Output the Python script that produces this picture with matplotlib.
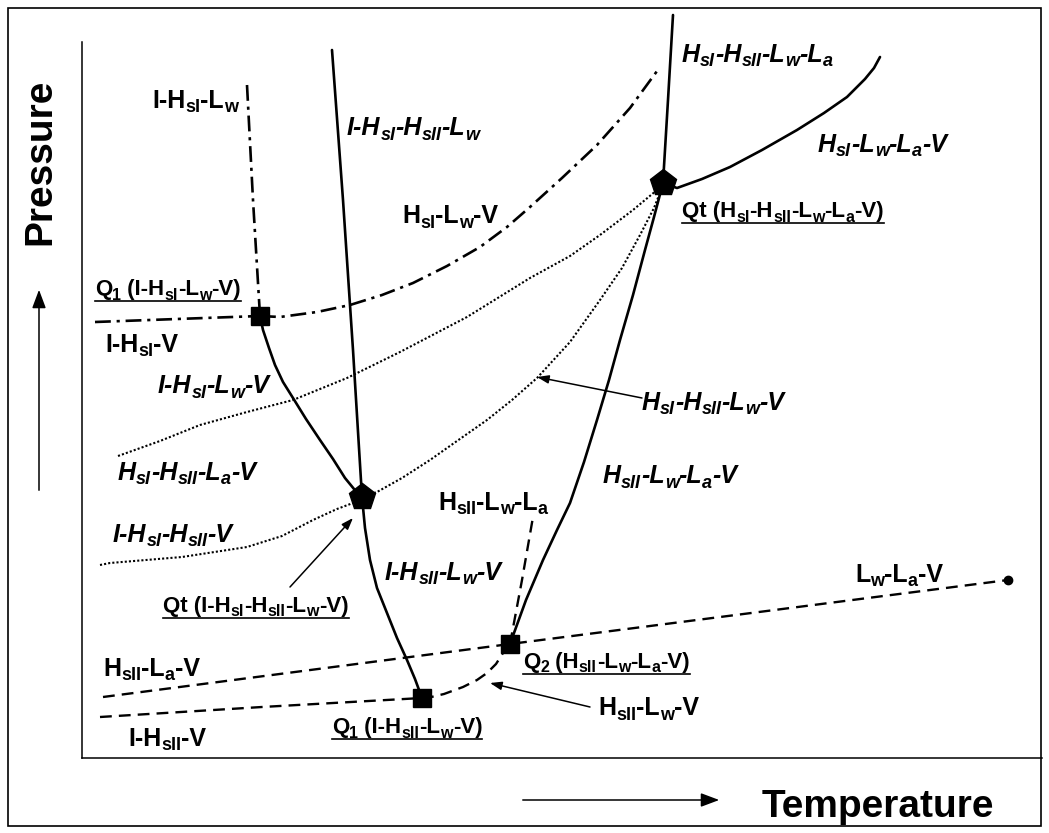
import re
import matplotlib
matplotlib.use("Agg")
import matplotlib.pyplot as plt
from matplotlib.patches import Rectangle
from matplotlib.transforms import offset_copy

# ---------------------------------------------------------------------------
# Schematic P-T phase diagram (units are arbitrary: T to the right, P upward)
# ---------------------------------------------------------------------------

# invariant points
q1_si = (178, 442)      # Q1 (I-HsI-Lw-V)
qt_low = (280, 261)     # Qt (I-HsI-HsII-Lw-V)
q1_sii = (340, 60)      # Q1 (I-HsII-Lw-V)
q2_sii = (428, 114)     # Q2 (HsII-Lw-La-V)
qt_up = (581, 575)      # Qt (HsI-HsII-Lw-La-V)
crit_end = (926, 178)   # end of Lw-La-V

# three-phase / four-phase lines
i_hsi_lw_T = [165, 171, 178]
i_hsi_lw_P = [673, 558, 442]

i_hsi_v_T = [13, 95, 178]
i_hsi_v_P = [436, 439, 442]

hsi_lw_v_T = [178, 198, 235, 268, 300, 331, 365, 398, 425, 448, 480, 515, 548, 578]
hsi_lw_v_P = [442, 441, 446, 453, 463, 475, 492, 511, 531, 551, 580, 613, 650, 691]

i_hsi_hsii_lw_T = [250, 261, 271, 280]
i_hsi_hsii_lw_P = [708, 558, 408, 261]

i_hsi_lw_v_T = [178, 181, 187, 193, 201, 211, 224, 238, 251, 263, 272, 280]
i_hsi_lw_v_P = [442, 428, 410, 393, 376, 360, 339, 318, 299, 280, 269, 261]

i_hsii_lw_v_T = [280, 283, 288, 295, 305, 315, 325, 333, 340]
i_hsii_lw_v_P = [261, 230, 198, 170, 145, 120, 98, 79, 60]

hsii_lw_la_v_T = [428, 444, 461, 475, 488, 502, 515, 527, 538, 551, 563, 572, 581]
hsii_lw_la_v_P = [114, 158, 198, 228, 255, 296, 338, 378, 418, 463, 508, 541, 575]

hsi_hsii_lw_la_T = [581, 586, 591]
hsi_hsii_lw_la_P = [575, 658, 743]

hsi_lw_la_v_T = [581, 595, 620, 648, 680, 715, 742, 765, 783, 792, 798]
hsi_lw_la_v_P = [575, 570, 579, 591, 608, 628, 645, 661, 679, 690, 701]

hsi_hsii_la_v_T = [36, 78, 118, 165, 211, 265, 318, 385, 448, 488, 518, 551, 581]
hsi_hsii_la_v_P = [302, 317, 333, 346, 358, 380, 406, 441, 480, 502, 523, 548, 573]

i_hsi_hsii_v_T = [18, 28, 100, 165, 200, 231, 255, 271, 280]
i_hsi_hsii_v_P = [193, 195, 201, 211, 222, 238, 249, 255, 261]

hsi_hsii_lw_v_T = [280, 295, 320, 348, 375, 405, 430, 455, 488, 518, 540, 558, 572, 581]
hsi_hsii_lw_v_P = [261, 266, 280, 298, 317, 338, 358, 380, 416, 458, 490, 523, 550, 573]

lw_la_v_T = [21, 428, 926]          # HsII-La-V continuing as Lw-La-V
lw_la_v_P = [61, 114, 178]

i_hsii_v_T = [18, 180, 340]
i_hsii_v_P = [41, 51, 60]

hsii_lw_v_T = [340, 345, 362, 381, 395, 405, 414, 421, 428]
hsii_lw_v_P = [60, 60, 64, 71, 78, 85, 94, 105, 114]

hsii_lw_la_T = [428, 440, 451]
hsii_lw_la_P = [114, 178, 241]

# region / line labels: (T, P, text, italic)
region_labels = [
    (70, 650, "I-H_{sI}-L_{w}", False),
    (320, 535, "H_{sI}-L_{w}-V", False),
    (23, 406, "I-H_{sI}-V", False),
    (356, 248, "H_{sII}-L_{w}-L_{a}", False),
    (773, 176, "L_{w}-L_{a}-V", False),
    (21, 82, "H_{sII}-L_{a}-V", False),
    (516, 43, "H_{sII}-L_{w}-V", False),
    (46, 12, "I-H_{sII}-V", False),
    (265, 623, "I-H_{sI}-H_{sII}-L_{w}", True),
    (600, 696, "H_{sI}-H_{sII}-L_{w}-L_{a}", True),
    (736, 606, "H_{sI}-L_{w}-L_{a}-V", True),
    (76, 365, "I-H_{sI}-L_{w}-V", True),
    (560, 348, "H_{sI}-H_{sII}-L_{w}-V", True),
    (36, 278, "H_{sI}-H_{sII}-L_{a}-V", True),
    (521, 275, "H_{sII}-L_{w}-L_{a}-V", True),
    (31, 216, "I-H_{sI}-H_{sII}-V", True),
    (303, 178, "I-H_{sII}-L_{w}-V", True),
]

# invariant point labels (underlined)
point_labels = [
    (13, 463, "Q_{1} (I-H_{sI}-L_{w}-V)"),
    (600, 541, "Qt (H_{sI}-H_{sII}-L_{w}-L_{a}-V)"),
    (81, 146, "Qt (I-H_{sI}-H_{sII}-L_{w}-V)"),
    (441, 90, "Q_{2} (H_{sII}-L_{w}-L_{a}-V)"),
    (250, 25, "Q_{1} (I-H_{sII}-L_{w}-V)"),
]

# pointer arrows: (tail, head)
pointers = [
    ((560, 360), (455, 381)),
    ((208, 171), (271, 240)),
    ((508, 51), (408, 75)),
]

# ---------------------------------------------------------------------------
W, H = 1049, 833
FONT = ["Liberation Sans", "DejaVu Sans"]
plt.rcParams["font.family"] = FONT

fig = plt.figure(figsize=(W / 100, H / 100), dpi=100)
fig.patch.set_facecolor("white")

AX_L, AX_R, AX_T, AX_B = 82, 1042, 42, 758
ax = fig.add_axes([AX_L / W, (H - AX_B) / H, (AX_R - AX_L) / W, (AX_B - AX_T) / H])
ax.set_xlim(0, AX_R - AX_L)
ax.set_ylim(0, AX_B - AX_T)
ax.set_xticks([])
ax.set_yticks([])
for side in ("top", "right"):
    ax.spines[side].set_visible(False)
for side in ("left", "bottom"):
    ax.spines[side].set_linewidth(1.1)

SOLID = dict(color="black", lw=1.9, ls="-", solid_capstyle="round",
             solid_joinstyle="round", clip_on=False)
DASHDOT = dict(color="black", lw=1.9, ls=(0, (6, 2.2, 1.2, 2.2)), clip_on=False)
DOTTED = dict(color="black", lw=1.5, ls=(0, (1, 1.0)), clip_on=False)
DASHED = dict(color="black", lw=1.7, ls=(0, (5, 3)), clip_on=False)

ax.plot(i_hsi_lw_T, i_hsi_lw_P, **DASHDOT)
ax.plot(i_hsi_v_T, i_hsi_v_P, **DASHDOT)
ax.plot(hsi_lw_v_T, hsi_lw_v_P, **DASHDOT)

ax.plot(i_hsi_hsii_lw_T, i_hsi_hsii_lw_P, **SOLID)
ax.plot(i_hsi_lw_v_T, i_hsi_lw_v_P, **SOLID)
ax.plot(i_hsii_lw_v_T, i_hsii_lw_v_P, **SOLID)
ax.plot(hsii_lw_la_v_T, hsii_lw_la_v_P, **SOLID)
ax.plot(hsi_hsii_lw_la_T, hsi_hsii_lw_la_P, **SOLID)
ax.plot(hsi_lw_la_v_T, hsi_lw_la_v_P, **SOLID)

ax.plot(hsi_hsii_la_v_T, hsi_hsii_la_v_P, **DOTTED)
ax.plot(i_hsi_hsii_v_T, i_hsi_hsii_v_P, **DOTTED)
ax.plot(hsi_hsii_lw_v_T, hsi_hsii_lw_v_P, **DOTTED)

ax.plot(lw_la_v_T, lw_la_v_P, **DASHED)
ax.plot(i_hsii_v_T, i_hsii_v_P, **DASHED)
ax.plot(hsii_lw_v_T, hsii_lw_v_P, **DASHED)
ax.plot(hsii_lw_la_T, hsii_lw_la_P, **DASHED)

# invariant points
for pt in (q1_si, q1_sii, q2_sii):
    ax.plot(*pt, marker="s", ms=12.5, color="black", zorder=6, clip_on=False)
for pt in (qt_low, qt_up):
    ax.plot(*pt, marker="p", ms=20, color="black", zorder=6, clip_on=False)
ax.plot(*crit_end, marker="o", ms=6, color="black", zorder=6, clip_on=False)

for tail, head in pointers:
    ax.annotate("", xy=head, xytext=tail,
                arrowprops=dict(arrowstyle="-|>,head_length=0.7,head_width=0.25",
                                color="black", lw=1.1, shrinkA=0, shrinkB=0))

# ---------------------------------------------------------------------------
SUB_SCALE = 0.72
SUB_DROP = 4.5   # pixels


def rich_label(x, y, spec, size, italic=False, underline=False):
    """Draw text with _{...} subscripts, starting at (x, y) on the baseline."""
    renderer = fig.canvas.get_renderer()
    pen = 0.0
    for piece in re.split(r"(_\{[^}]*\})", spec):
        if not piece:
            continue
        is_sub = piece.startswith("_{")
        txt = piece[2:-1] if is_sub else piece
        fs = size * SUB_SCALE if is_sub else size
        drop = -SUB_DROP if is_sub else 0.0
        tr = offset_copy(ax.transData, fig=fig, x=pen, y=drop, units="dots")
        t = ax.text(x, y, txt, transform=tr, fontsize=fs, fontweight="bold",
                    fontstyle="italic" if italic else "normal",
                    ha="left", va="baseline", clip_on=False)
        pen += t.get_window_extent(renderer).width
    if underline:
        x0, y0 = ax.transData.transform((x, y))
        inv = ax.transData.inverted()
        (ux0, uy), (ux1, _) = inv.transform([(x0, y0 - 6), (x0 + pen, y0 - 6)])
        ax.plot([ux0, ux1], [uy, uy], color="black", lw=1.2, clip_on=False)


for T, P, text, ital in region_labels:
    rich_label(T, P, text, 18, italic=ital)
for T, P, text in point_labels:
    rich_label(T, P, text, 16, underline=True)

# axis titles with direction arrows
fig.text(40 / W, 1 - 162 / H, "Pressure", rotation=90, ha="center", va="center",
         fontsize=28, fontweight="bold")
fig.text(762 / W, (H - 817) / H, "Temperature", ha="left", va="baseline",
         fontsize=28, fontweight="bold")
fig.add_artist(matplotlib.patches.FancyArrowPatch(
    (39 / W, (H - 493) / H), (39 / W, (H - 287) / H), transform=fig.transFigure,
    arrowstyle="-|>,head_length=0.8,head_width=0.3", mutation_scale=14,
    color="black", lw=1.1))
fig.add_artist(matplotlib.patches.FancyArrowPatch(
    (520 / W, (H - 800) / H), (722 / W, (H - 800) / H), transform=fig.transFigure,
    arrowstyle="-|>,head_length=0.8,head_width=0.3", mutation_scale=14,
    color="black", lw=1.1))

# outer frame
fig.add_artist(Rectangle((8 / W, 7 / H), (1041 - 8) / W, (826 - 8) / H,
                         transform=fig.transFigure, fill=False,
                         edgecolor="black", lw=1.2))

fig.savefig("out.png", dpi=100, facecolor="white")
